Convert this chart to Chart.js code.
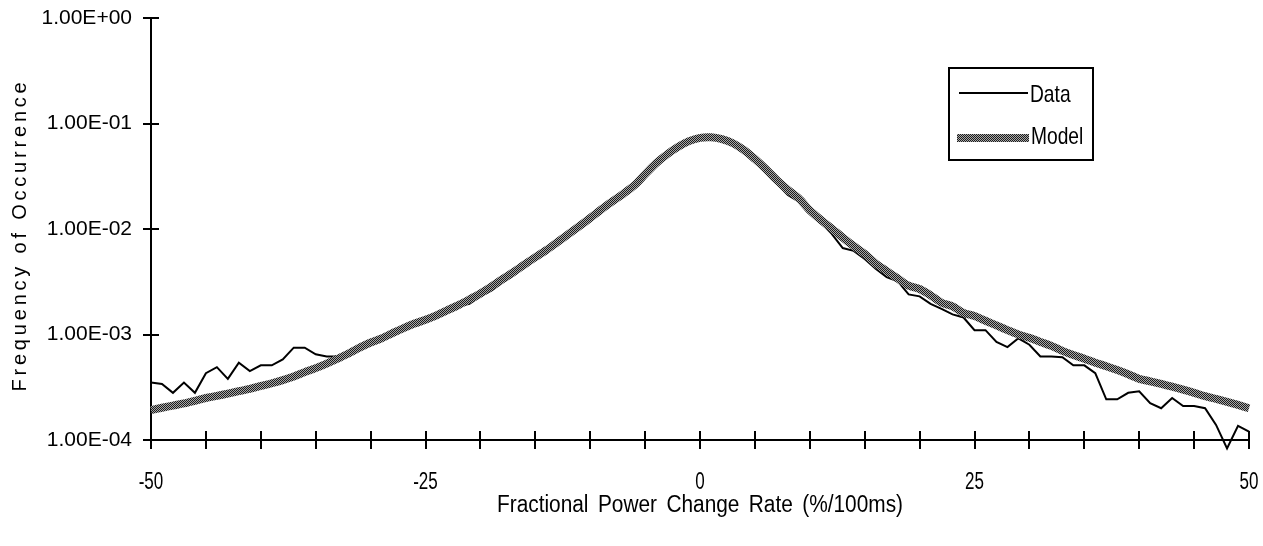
<!DOCTYPE html>
<html>
<head>
<meta charset="utf-8">
<script src="https://cdn.jsdelivr.net/npm/chart.js@4.4.1/dist/chart.umd.min.js"></script>
<style>
  body { margin: 0; background: #fff; }
  canvas { display: block; }
</style>
</head>
<body>
<canvas id="chart" width="1263" height="546"></canvas>
<script>
// fractional power change rate (%/100ms), one point per unit
const rates = [
  -50, -49, -48, -47, -46, -45, -44, -43, -42, -41,
  -40, -39, -38, -37, -36, -35, -34, -33, -32, -31,
  -30, -29, -28, -27, -26, -25, -24, -23, -22, -21,
  -20, -19, -18, -17, -16, -15, -14, -13, -12, -11,
  -10, -9, -8, -7, -6, -5, -4, -3, -2, -1,
  0, 1, 2, 3, 4, 5, 6, 7, 8, 9,
  10, 11, 12, 13, 14, 15, 16, 17, 18, 19,
  20, 21, 22, 23, 24, 25, 26, 27, 28, 29,
  30, 31, 32, 33, 34, 35, 36, 37, 38, 39,
  40, 41, 42, 43, 44, 45, 46, 47, 48, 49,
  50
];

const measured = [
  3.5e-4, 3.4e-4, 2.8e-4, 3.5e-4, 2.8e-4, 4.3e-4, 4.9e-4, 3.8e-4, 5.4e-4, 4.5e-4,
  5.1e-4, 5.1e-4, 5.8e-4, 7.5e-4, 7.5e-4, 6.5e-4, 6.2e-4, 6.2e-4, 6.6e-4, 7.5e-4,
  8.4e-4, 9.2e-4, 1.03e-3, 1.15e-3, 1.27e-3, 1.38e-3, 1.52e-3, 1.72e-3, 1.85e-3, 1.95e-3,
  2.3e-3, 2.6e-3, 3.1e-3, 3.6e-3, 4.4e-3, 5.4e-3, 6.3e-3, 7.5e-3, 8.9e-3, 0.0106,
  0.0125, 0.0150, 0.0180, 0.0215, 0.026, 0.032, 0.041, 0.050, 0.059, 0.068,
  0.073, 0.073, 0.070, 0.063, 0.053, 0.044, 0.035, 0.027, 0.021, 0.0182,
  0.0140, 0.0115, 0.0090, 0.0066, 0.0062, 0.0052, 0.0042, 0.0035, 0.0032, 0.0024,
  0.0023, 0.00195, 0.00175, 0.00155, 0.00145, 0.0011, 0.0011, 8.5e-4, 7.6e-4, 9.2e-4,
  8.0e-4, 6.2e-4, 6.2e-4, 6.1e-4, 5.1e-4, 5.1e-4, 4.3e-4, 2.43e-4, 2.43e-4, 2.8e-4,
  2.9e-4, 2.23e-4, 2.0e-4, 2.5e-4, 2.1e-4, 2.1e-4, 2.0e-4, 1.39e-4, 8.3e-5, 1.36e-4,
  1.2e-4
];

const model = [
  1.92e-4, 2.02e-4, 2.12e-4, 2.22e-4, 2.35e-4, 2.5e-4, 2.62e-4, 2.75e-4, 2.9e-4, 3.05e-4,
  3.25e-4, 3.45e-4, 3.7e-4, 4.0e-4, 4.4e-4, 4.8e-4, 5.3e-4, 5.9e-4, 6.6e-4, 7.5e-4,
  8.4e-4, 9.2e-4, 1.03e-3, 1.15e-3, 1.27e-3, 1.38e-3, 1.52e-3, 1.7e-3, 1.9e-3, 2.15e-3,
  2.45e-3, 2.85e-3, 3.35e-3, 3.9e-3, 4.6e-3, 5.4e-3, 6.3e-3, 7.5e-3, 8.9e-3, 0.0106,
  0.0127, 0.0153, 0.0182, 0.0215, 0.0258, 0.033, 0.042, 0.051, 0.060, 0.068,
  0.073, 0.074, 0.071, 0.065, 0.056, 0.046, 0.037, 0.029, 0.0235, 0.0195,
  0.0150, 0.0122, 0.0101, 0.0083, 0.0069, 0.0058, 0.0047, 0.0040, 0.0034, 0.0029,
  0.0027, 0.00235, 0.0020, 0.00185, 0.0016, 0.0015, 0.00135, 0.00122, 0.0011, 0.0010,
  9.3e-4, 8.5e-4, 7.8e-4, 7.0e-4, 6.4e-4, 5.9e-4, 5.4e-4, 5.0e-4, 4.6e-4, 4.2e-4,
  3.8e-4, 3.6e-4, 3.4e-4, 3.2e-4, 3.0e-4, 2.8e-4, 2.6e-4, 2.45e-4, 2.3e-4, 2.15e-4,
  2.0e-4
];

const yTicks = [1e-4, 1e-3, 1e-2, 1e-1, 1];
const yTickLabels = ['1.00E-04', '1.00E-03', '1.00E-02', '1.00E-01', '1.00E+00'];
const xLabelled = [-50, -25, 0, 25, 50];

const plain = "'Liberation Sans', Arial, sans-serif";

// halftone look of the model curve
function halftone() {
    const c = document.createElement('canvas');
    c.width = 2; c.height = 2;
    const g = c.getContext('2d');
    g.fillStyle = '#1c1c1c';
    g.fillRect(0, 0, 2, 2);
    g.fillStyle = '#a8a8a8';
    g.fillRect(1, 0, 1, 1);
    g.fillRect(0, 1, 1, 1);
    return g.createPattern(c, 'repeat');
}

// narrow text: squeeze Liberation Sans horizontally
function squeezed(c, text, x, y, k, align) {
    c.save();
    c.translate(x, y);
    c.scale(k, 1);
    c.textAlign = align;
    c.fillText(text, 0, 0);
    c.restore();
}

const ctx = document.getElementById('chart').getContext('2d');
const modelPattern = halftone();

// ticks crossing both axes, narrow x labels
const crossTicks = {
    id: 'crossTicks',
    afterDraw(chart) {
        const c = chart.ctx, x = chart.scales.x, y = chart.scales.y;
        c.save();
        c.strokeStyle = '#000';
        c.lineWidth = 2;
        c.beginPath();
        x.ticks.forEach(t => {
            const px = Math.round(x.getPixelForValue(t.value));
            c.moveTo(px, y.bottom - 9);
            c.lineTo(px, y.bottom + 9);
        });
        y.ticks.forEach(t => {
            const py = Math.round(y.getPixelForValue(t.value));
            c.moveTo(x.left - 8, py);
            c.lineTo(x.left + 8, py);
        });
        c.stroke();

        c.fillStyle = '#000';
        c.font = '23px ' + plain;
        c.textBaseline = 'middle';
        xLabelled.forEach(v => {
            squeezed(c, String(v), x.getPixelForValue(v), y.bottom + 43, 0.74, 'center');
        });
        c.restore();
    }
};

// axis titles and boxed legend
const decorations = {
    id: 'decorations',
    afterDraw(chart) {
        const c = chart.ctx;
        c.save();
        c.fillStyle = '#000';

        c.save();
        c.translate(20, 235);
        c.rotate(-Math.PI / 2);
        c.font = '20px ' + plain;
        c.letterSpacing = '3.8px';
        c.textAlign = 'center';
        c.textBaseline = 'middle';
        c.fillText('Frequency of Occurrence', 0, 0);
        c.restore();

        c.font = '23px ' + plain;
        c.textBaseline = 'middle';
        c.wordSpacing = '4px';
        const w = c.measureText('Fractional Power Change Rate (%/100ms)').width;
        squeezed(c, 'Fractional Power Change Rate (%/100ms)', 700, 506, 406 / w, 'center');
        c.wordSpacing = '0px';

        // legend
        c.strokeStyle = '#000';
        c.lineWidth = 2;
        c.strokeRect(949, 68, 144, 92);
        c.beginPath();
        c.moveTo(959, 93);
        c.lineTo(1028, 93);
        c.stroke();
        c.strokeStyle = modelPattern;
        c.lineWidth = 8;
        c.beginPath();
        c.moveTo(957, 138);
        c.lineTo(1029, 138);
        c.stroke();
        c.font = '24px ' + plain;
        squeezed(c, 'Data', 1030, 95, 0.8, 'left');
        squeezed(c, 'Model', 1031, 137, 0.8, 'left');
        c.restore();
    }
};

new Chart(ctx, {
    type: 'line',
    data: {
        labels: rates,
        datasets: [{
            label: 'Data',
            data: measured,
            borderColor: '#000',
            borderWidth: 2,
            pointRadius: 0,
            tension: 0,
            order: 2,
            clip: {left: 2, top: 2, right: 4, bottom: 14}
        }, {
            label: 'Model',
            data: model,
            borderColor: modelPattern,
            borderWidth: 8,
            pointRadius: 0,
            tension: 0.3,
            order: 1,
            clip: 4
        }]
    },
    options: {
        responsive: false,
        animation: false,
        layout: {padding: {top: 18, right: 14, left: 0, bottom: 0}},
        plugins: {
            legend: {display: false},
            tooltip: {enabled: false}
        },
        scales: {
            x: {
                type: 'linear',
                min: -50,
                max: 50,
                afterFit: s => { s.height = 106; s.paddingLeft = 0; s.paddingRight = 0; },
                grid: {display: false},
                border: {display: true, color: '#000', width: 2},
                ticks: {
                    stepSize: 5,
                    autoSkip: false,
                    maxRotation: 0,
                    padding: 30,
                    callback: () => ''
                }
            },
            y: {
                type: 'logarithmic',
                min: 1e-4,
                max: 1,
                afterFit: s => { s.width = 151; s.paddingTop = 0; s.paddingBottom = 0; },
                afterBuildTicks: s => { s.ticks = yTicks.map(v => ({value: v})); },
                grid: {display: false},
                border: {display: true, color: '#000', width: 2},
                ticks: {
                    padding: 11,
                    color: '#000',
                    font: {family: plain, size: 21},
                    callback: v => yTickLabels[yTicks.indexOf(v)]
                }
            }
        }
    },
    plugins: [crossTicks, decorations]
});
</script>
</body>
</html>
